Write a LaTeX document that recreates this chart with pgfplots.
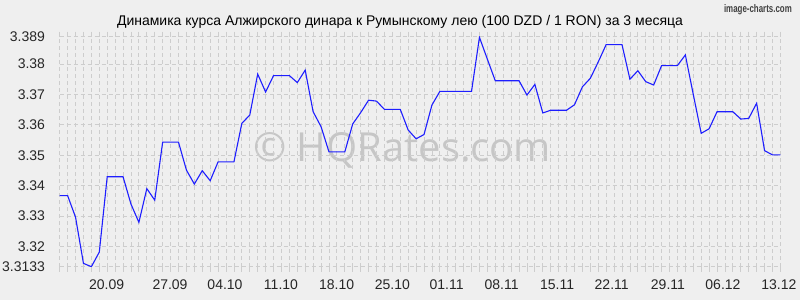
\documentclass[border=0pt]{standalone}
\usepackage{pgfplots}
\pgfplotsset{compat=1.18}
\usepackage{fontspec}
\setmainfont{Liberation Sans}
\newfontfamily\wmfont{Open Sans}
\definecolor{bg}{RGB}{239,239,239}
\definecolor{gridc}{RGB}{205,205,205}
\definecolor{wm}{RGB}{198,198,198}
\definecolor{linec}{RGB}{30,30,255}
\begin{document}
\begin{tikzpicture}[font=\fontsize{14bp}{16bp}\selectfont]
\fill[bg] (0,0) rectangle (800bp,300bp);
\useasboundingbox (0,0) rectangle (800bp,300bp);
\node[anchor=base, inner sep=0pt] at (400bp,274bp) {Динамика курса Алжирского динара к Румынскому лею (100 DZD / 1 RON) за 3 месяца};
\node[anchor=north east, inner sep=0pt, text=black!75] at (792bp,296bp) {\fontsize{11bp}{12bp}\selectfont\bfseries\scalebox{0.72}[1]{image-charts.com}};
\node[anchor=base west, inner sep=0pt, text=wm] at (253bp,138.5bp) {\wmfont\fontsize{40bp}{44bp}\selectfont © HQRates.com};
\begin{axis}[
  at={(59.7bp,33.3bp)}, anchor=south west,
  scale only axis, width=720.7bp, height=230bp,
  xmin=0, xmax=91, ymin=3.3133, ymax=3.389,
  axis line style={draw=none},
  xtick={0,...,91}, xticklabels={},
  tick align=outside,
  major tick length=5bp,
  x tick style={gridc, line width=0.8bp},
  y tick style={draw=none},
  extra x ticks={5.93,13.93,20.87,27.94,34.97,42.0,48.86,55.8,62.8,69.7,76.8,83.75,90.8},
  extra x tick labels={20.09,27.09,04.10,11.10,18.10,25.10,01.11,08.11,15.11,22.11,29.11,06.12,13.12},
  extra x tick style={grid=none, major tick length=0pt},
  xticklabel style={anchor=north, inner sep=0pt, yshift=-13.3bp, text=black!85},
  ytick={3.3133,3.32,3.33,3.34,3.35,3.36,3.37,3.38,3.389},
  yticklabels={3.3133,3.32,3.33,3.34,3.35,3.36,3.37,3.38,3.389},
  yticklabel style={anchor=east, inner sep=0pt, xshift=-9.5bp, text=black!85},
  grid=major,
  major grid style={gridc, dash pattern=on 4bp off 3bp, line width=0.8bp},
]
\addplot[linec, line width=1.1bp, mark=none] coordinates {
(0,3.3367) (1,3.3367) (2,3.3296) (3,3.3144) (4,3.3133) (5,3.3181) (6,3.3429) (7,3.3429) (8,3.3429) (9,3.3339)
(10,3.3279) (11,3.3390) (12,3.3352) (13,3.3543) (14,3.3543) (15,3.3543) (16,3.3451) (17,3.3405) (18,3.3449) (19,3.3416)
(20,3.3478) (21,3.3478) (22,3.3478) (23,3.3605) (24,3.3632) (25,3.3767) (26,3.3708) (27,3.3762) (28,3.3762) (29,3.3762)
(30,3.3739) (31,3.3780) (32,3.3643) (33,3.3594) (34,3.3511) (35,3.3511) (36,3.3511) (37,3.3603) (38,3.3640) (39,3.3681)
(40,3.3678) (41,3.3651) (42,3.3651) (43,3.3651) (44,3.3583) (45,3.3554) (46,3.3568) (47,3.3665) (48,3.3710) (49,3.3710)
(50,3.3710) (51,3.3710) (52,3.3710) (53,3.3888) (54,3.3816) (55,3.3745) (56,3.3745) (57,3.3745) (58,3.3745) (59,3.3698)
(60,3.3733) (61,3.3639) (62,3.3648) (63,3.3648) (64,3.3648) (65,3.3666) (66,3.3725) (67,3.3753) (68,3.3807) (69,3.3864)
(70,3.3864) (71,3.3864) (72,3.3750) (73,3.3778) (74,3.3742) (75,3.3731) (76,3.3795) (77,3.3795) (78,3.3795) (79,3.3830)
(80,3.3700) (81,3.3572) (82,3.3587) (83,3.3643) (84,3.3643) (85,3.3643) (86,3.3619) (87,3.3621) (88,3.3671) (89,3.3515)
(90,3.3501) (91,3.3501)
};
\end{axis}
\end{tikzpicture}
\end{document}
